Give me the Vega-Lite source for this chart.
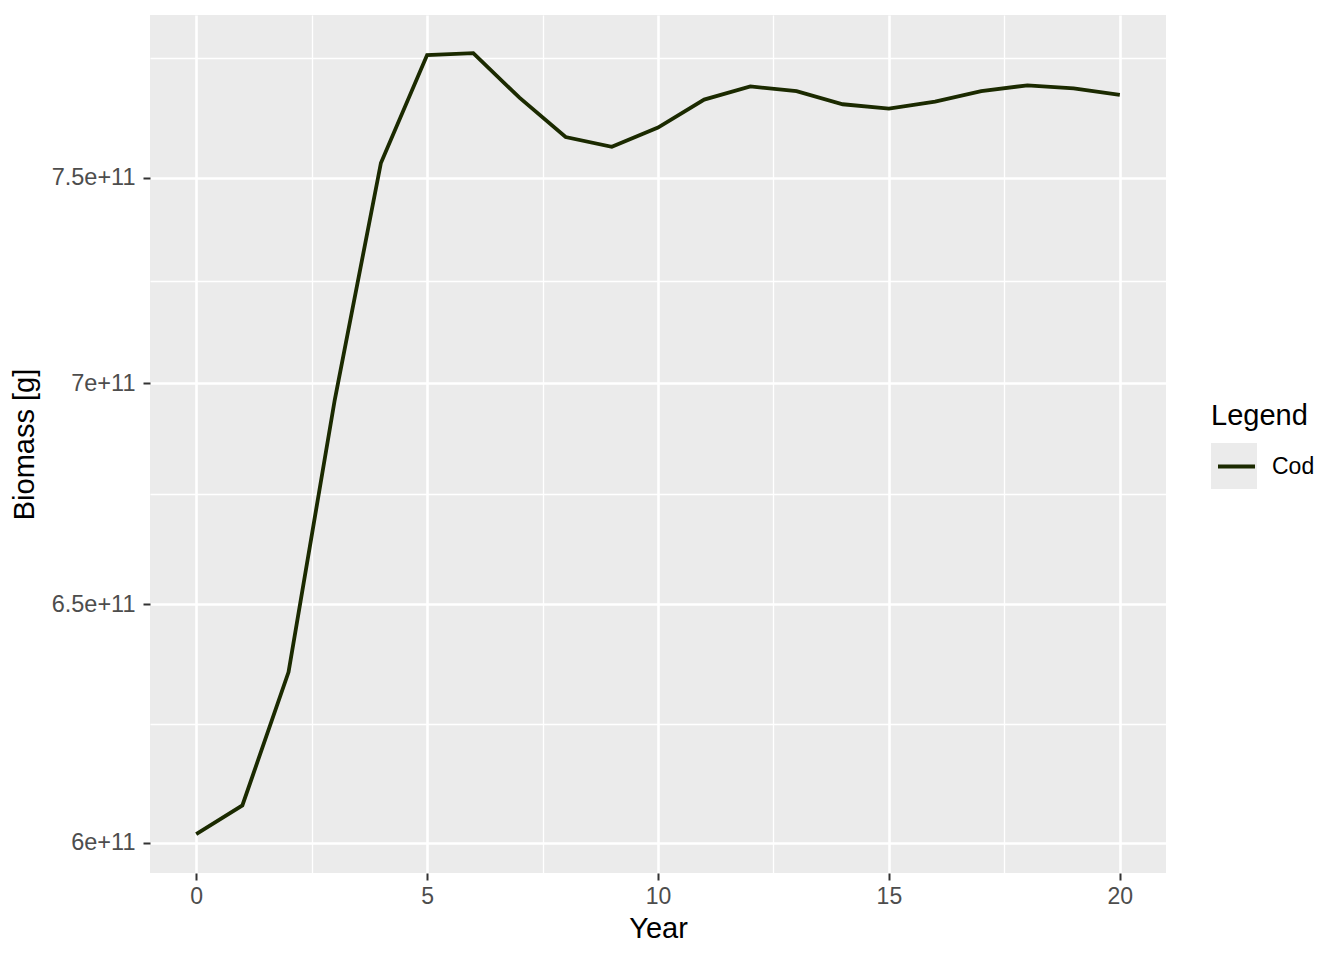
{
  "$schema": "https://vega.github.io/schema/vega-lite/v6.json",
  "width": 1016,
  "height": 858,
  "autosize": {"type": "none"},
  "padding": {"left": 150, "top": 15, "right": 178, "bottom": 87},
  "background": "white",
  "config": {
    "font": "Liberation Sans",
    "view": {"fill": "#EBEBEB", "stroke": null},
    "axis": {
      "domain": false,
      "gridColor": "white",
      "tickColor": "#333333",
      "tickWidth": 2,
      "tickSize": 7,
      "labelColor": "#4D4D4D",
      "labelFontSize": 23,
      "labelFont": "Liberation Sans",
      "titleFont": "Liberation Sans",
      "titleFontSize": 29,
      "titleFontWeight": "normal",
      "titleColor": "black"
    },
    "legend": {
      "labelFont": "Liberation Sans",
      "titleFont": "Liberation Sans"
    }
  },
  "data": {
    "values": [
      {"Year": 0, "Biomass": 6.018e11, "Species": "Cod"},
      {"Year": 1, "Biomass": 6.076e11, "Species": "Cod"},
      {"Year": 2, "Biomass": 6.354e11, "Species": "Cod"},
      {"Year": 3, "Biomass": 6.961e11, "Species": "Cod"},
      {"Year": 4, "Biomass": 7.537e11, "Species": "Cod"},
      {"Year": 5, "Biomass": 7.815e11, "Species": "Cod"},
      {"Year": 6, "Biomass": 7.820e11, "Species": "Cod"},
      {"Year": 7, "Biomass": 7.704e11, "Species": "Cod"},
      {"Year": 8, "Biomass": 7.603e11, "Species": "Cod"},
      {"Year": 9, "Biomass": 7.578e11, "Species": "Cod"},
      {"Year": 10, "Biomass": 7.627e11, "Species": "Cod"},
      {"Year": 11, "Biomass": 7.699e11, "Species": "Cod"},
      {"Year": 12, "Biomass": 7.733e11, "Species": "Cod"},
      {"Year": 13, "Biomass": 7.721e11, "Species": "Cod"},
      {"Year": 14, "Biomass": 7.687e11, "Species": "Cod"},
      {"Year": 15, "Biomass": 7.676e11, "Species": "Cod"},
      {"Year": 16, "Biomass": 7.694e11, "Species": "Cod"},
      {"Year": 17, "Biomass": 7.721e11, "Species": "Cod"},
      {"Year": 18, "Biomass": 7.736e11, "Species": "Cod"},
      {"Year": 19, "Biomass": 7.728e11, "Species": "Cod"},
      {"Year": 20, "Biomass": 7.711e11, "Species": "Cod"}
    ]
  },
  "encoding": {
    "x": {
      "field": "Year",
      "type": "quantitative",
      "scale": {"domain": [-1, 21], "nice": false, "zero": false},
      "axis": {
        "title": "Year",
        "values": [0, 2.5, 5, 7.5, 10, 12.5, 15, 17.5, 20],
        "labelExpr": "datum.value % 5 === 0 ? datum.label : ''",
        "gridWidth": {"condition": {"test": "datum.value % 5 === 0", "value": 2.6}, "value": 1.3},
        "tickOpacity": {"condition": {"test": "datum.value % 5 === 0", "value": 1}, "value": 0},
        "labelPadding": 5,
        "titlePadding": 6
      }
    },
    "y": {
      "field": "Biomass",
      "type": "quantitative",
      "scale": {"type": "log", "domain": [5.9399e11, 7.9206e11], "nice": false, "zero": false},
      "axis": {
        "title": "Biomass [g]",
        "values": [600000000000, 624499800000, 650000000000, 674536878000, 700000000000, 724568837000, 750000000000, 780625000000],
        "labelExpr": "datum.value % 50000000000 === 0 ? format(datum.value / 100000000000, '~g') + 'e+11' : ''",
        "gridWidth": {"condition": {"test": "datum.value % 50000000000 === 0", "value": 2.6}, "value": 1.3},
        "tickOpacity": {"condition": {"test": "datum.value % 50000000000 === 0", "value": 1}, "value": 0},
        "labelFontSize": 23.5,
        "labelPadding": 8,
        "titlePadding": 12
      }
    }
  },
  "layer": [
    {
      "mark": {"type": "point", "shape": "square", "filled": true, "size": 0},
      "encoding": {
        "fill": {
          "field": "Species",
          "type": "nominal",
          "scale": {"domain": ["Cod"], "range": ["#EBEBEB"]},
          "legend": {
            "orient": "none",
            "legendX": 1061,
            "legendY": 428,
            "title": null,
            "padding": 0,
            "symbolType": "square",
            "symbolSize": 2116,
            "symbolStrokeWidth": 0,
            "symbolOpacity": 1,
            "labelOpacity": 0,
            "labelFontSize": 1,
            "zindex": 0
          }
        }
      }
    },
    {
      "mark": {"type": "line", "strokeWidth": 3.8},
      "encoding": {
        "color": {
          "field": "Species",
          "type": "nominal",
          "scale": {"range": ["#1B2A00"]},
          "legend": {
            "orient": "none",
            "legendX": 1061,
            "legendY": 387,
            "title": "Legend",
            "titleFontSize": 29,
            "titleFontWeight": "normal",
            "titleColor": "black",
            "titlePadding": 15,
            "padding": 0,
            "labelFontSize": 23,
            "labelColor": "black",
            "labelOffset": 15,
            "symbolType": "stroke",
            "symbolSize": 1369,
            "symbolStrokeWidth": 4,
            "symbolOffset": 5,
            "zindex": 1
          }
        }
      }
    }
  ]
}
